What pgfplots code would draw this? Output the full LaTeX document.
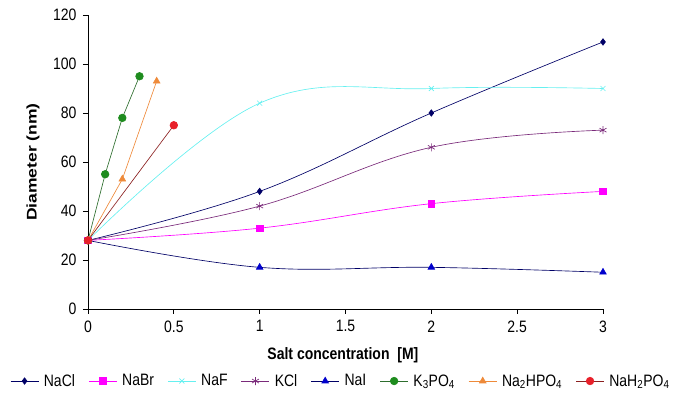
\documentclass[border=0pt]{standalone}
\usepackage{fontspec}
\setmainfont{Liberation Sans}
\usepackage{graphicx}
\usepackage{pgfplots}
\pgfplotsset{compat=1.18}

\definecolor{navy}{HTML}{000066}
\definecolor{magen}{HTML}{FF00FF}
\definecolor{cyanl}{HTML}{66F0F0}
\definecolor{purp}{HTML}{7A2A7A}
\definecolor{blu}{HTML}{0000CC}
\definecolor{grn}{HTML}{1E8C1E}
\definecolor{grnl}{HTML}{2E6E2E}
\definecolor{orng}{HTML}{EE8A3A}
\definecolor{redm}{HTML}{E8202A}
\definecolor{redl}{HTML}{8B2020}

% text in the reference is slightly stretched vertically
\newcommand\vs[1]{\scalebox{1}[1.18]{#1}}

\begin{document}
\begin{tikzpicture}
\begin{axis}[
    scale only axis,
    width=515pt, height=294pt,
    xmin=0, xmax=3, ymin=0, ymax=120,
    axis lines=left,
    axis line style={-, black, line width=0.9pt},
    xtick={0,0.5,...,3},
    ytick={0,20,...,120},
    xticklabels={\vs{0},\vs{0.5},\vs{1},\vs{1.5},\vs{2},\vs{2.5},\vs{3}},
    yticklabel={\vs{\pgfmathprintnumber{\tick}}},
    tick align=outside,
    major tick length=5pt,
    tick style={black, line width=0.9pt},
    /pgf/number format/assume math mode=true,
    ticklabel style={font=\fontsize{14}{16}\selectfont},
    xticklabel style={yshift=-3pt},
    yticklabel style={xshift=-3pt},
    xlabel={\vs{\textbf{Salt concentration\ \ [M]}}},
    ylabel={\scalebox{1.25}[1]{\textbf{Diameter (nm)}}},
    label style={font=\fontsize{14}{16}\selectfont},
    xlabel style={at={(axis description cs:0.495,-0.156)}, anchor=center},
    ylabel style={at={(axis description cs:-0.107,0.5)}, anchor=center},
    clip=false,
    legend columns=8,
    legend style={at={(0.491,-0.245)}, anchor=center, draw=none, fill=none,
        font=\fontsize{14}{16}\selectfont, column sep=3pt,
        /tikz/every even column/.append style={column sep=11.5pt}},
    legend image code/.code={
        \draw[mark=none] (0pt,0pt) -- (28pt,0pt);
        \draw plot[only marks] coordinates {(14pt,0pt)};},
    every axis plot/.append style={line width=0.65pt},
    every axis plot post/.append style={tension=0.65},
]
\addplot[navy, smooth, mark=diamond*, mark size=3.2pt, mark options={fill=navy}]
    coordinates {(0,28) (1,48) (2,80) (3,109)};
\addlegendentry{\vs{NaCl}}
\addplot[magen, smooth, mark=square*, mark size=3.3pt, mark options={fill=magen}]
    coordinates {(0,28) (1,33) (2,43) (3,48)};
\addlegendentry{\vs{NaBr}}
\addplot[cyanl, smooth, mark=x, mark size=3.5pt]
    coordinates {(0,28) (1,84) (2,90) (3,90)};
\addlegendentry{\vs{NaF}}
\addplot[purp, smooth, mark=asterisk, mark size=4pt]
    coordinates {(0,28) (1,42) (2,66) (3,73)};
\addlegendentry{\vs{KCl}}
\addplot[navy, smooth, mark=triangle*, mark size=3.8pt, mark options={fill=blu, draw=blu}]
    coordinates {(0,28) (1,17) (2,17) (3,15)};
\addlegendentry{\vs{NaI}}
\addplot[grnl, mark=*, mark size=3.8pt, mark options={fill=grn, draw=grn}]
    coordinates {(0,28) (0.1,55) (0.2,78) (0.3,95)};
\addlegendentry{\vs{K\textsubscript{3}PO\textsubscript{4}}}
\addplot[orng, mark=triangle*, mark size=3.8pt, mark options={fill=orng}]
    coordinates {(0,28) (0.2,53) (0.4,93)};
\addlegendentry{\vs{Na\textsubscript{2}HPO\textsubscript{4}}}
\addplot[redl, mark=*, mark size=3.8pt, mark options={fill=redm, draw=redm}]
    coordinates {(0,28) (0.5,75)};
\addlegendentry{\vs{NaH\textsubscript{2}PO\textsubscript{4}}}
\end{axis}
\path (-88pt,-94pt) rectangle ++(682pt,403pt);
\end{tikzpicture}
\end{document}
